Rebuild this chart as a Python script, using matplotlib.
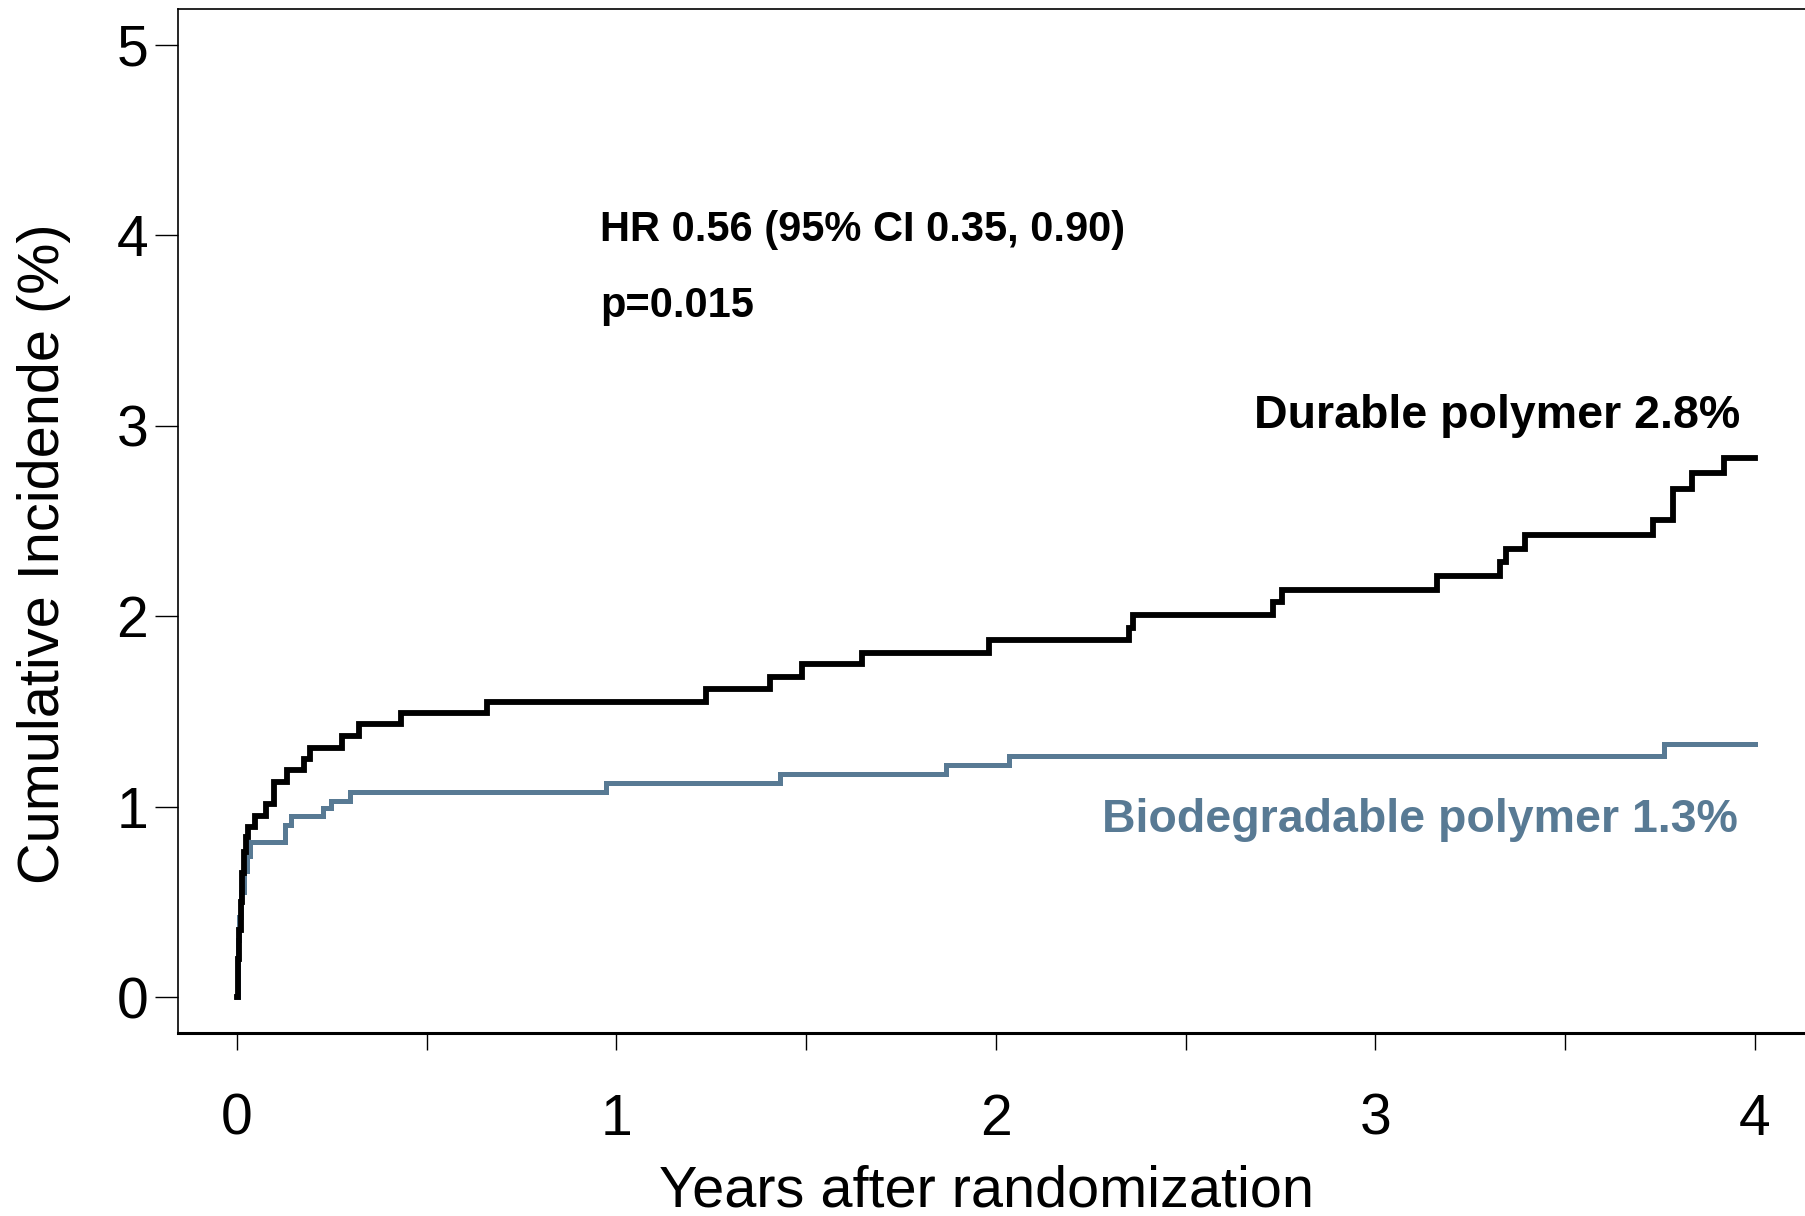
import matplotlib
matplotlib.use('Agg')
import matplotlib.pyplot as plt

plt.rcParams['font.family'] = ['Liberation Sans', 'DejaVu Sans']

# Durable polymer (black) - step times (years) and cumulative incidence (%)
durable_t = [0.0, 0.003, 0.006, 0.010, 0.015, 0.020, 0.024, 0.030, 0.047, 0.076, 0.098,
             0.131, 0.177, 0.192, 0.276, 0.321, 0.432, 0.659, 1.237, 1.404, 1.489,
             1.647, 1.983, 2.350, 2.360, 2.729, 2.754, 3.163, 3.327, 3.345, 3.394,
             3.730, 3.785, 3.833, 3.918, 4.0]
durable_y = [0.0, 0.20, 0.35, 0.50, 0.65, 0.76, 0.84, 0.894, 0.952, 1.012, 1.131,
             1.192, 1.250, 1.309, 1.371, 1.434, 1.490, 1.551, 1.620, 1.681, 1.747,
             1.808, 1.874, 1.940, 2.005, 2.074, 2.140, 2.213, 2.285, 2.352, 2.424,
             2.503, 2.666, 2.750, 2.830, 2.830]

# Biodegradable polymer (blue)
biodeg_t = [0.0, 0.002, 0.006, 0.012, 0.020, 0.028, 0.034, 0.128, 0.144, 0.227, 0.248,
            0.298, 0.973, 1.431, 1.868, 2.035, 3.760, 4.0]
biodeg_y = [0.0, 0.30, 0.42, 0.55, 0.66, 0.74, 0.816, 0.903, 0.952, 0.991, 1.031,
            1.075, 1.125, 1.173, 1.221, 1.264, 1.330, 1.330]

x_ticks = [0, 1, 2, 3, 4]
x_minor = [0.5, 1.5, 2.5, 3.5]
y_ticks = [0, 1, 2, 3, 4, 5]

blue = '#587a94'

fig = plt.figure(figsize=(18.05, 12.16), dpi=100)
ax = fig.add_axes([0.0986, 0.1505, 0.9368, 0.8421])

ax.plot(biodeg_t, biodeg_y, drawstyle='steps-post', color=blue, lw=3.6, solid_joinstyle='miter')
ax.plot(durable_t, durable_y, drawstyle='steps-post', color='black', lw=4.2, solid_joinstyle='miter')

ax.set_xlim(-0.155, 4.3)
ax.set_ylim(-0.189, 5.189)

ax.set_xticks(x_ticks)
ax.set_xticks(x_minor, minor=True)
ax.set_yticks(y_ticks)
ax.tick_params(axis='y', length=16.5, width=1.0, pad=5, labelsize=41)
ax.tick_params(axis='x', which='major', length=12, width=1.0, pad=31, labelsize=41)
ax.tick_params(axis='x', which='minor', length=12, width=1.0)

for s in ['left', 'top']:
    ax.spines[s].set_linewidth(1.2)
ax.spines['bottom'].set_linewidth(2.2)
ax.spines['right'].set_visible(False)

ax.set_xlabel('Years after randomization', fontsize=41.5)
ax.xaxis.set_label_coords(0.478, -0.128)
ax.set_ylabel('Cumulative Incidende (%)', fontsize=41.5)
ax.yaxis.set_label_coords(-0.063, 0.468)

ax.text(0.958, 4.03, 'HR 0.56 (95% CI 0.35, 0.90)', fontsize=30, fontweight='bold',
        ha='left', va='center')
ax.text(0.958, 3.63, 'p=0.015', fontsize=30, fontweight='bold', ha='left', va='center')
ax.text(3.96, 3.05, 'Durable polymer 2.8%', fontsize=33.5, fontweight='bold',
        ha='right', va='center')
ax.text(3.955, 0.93, 'Biodegradable polymer 1.3%', fontsize=33.5, fontweight='bold',
        ha='right', va='center', color=blue)

fig.savefig('out.png', dpi=100)
